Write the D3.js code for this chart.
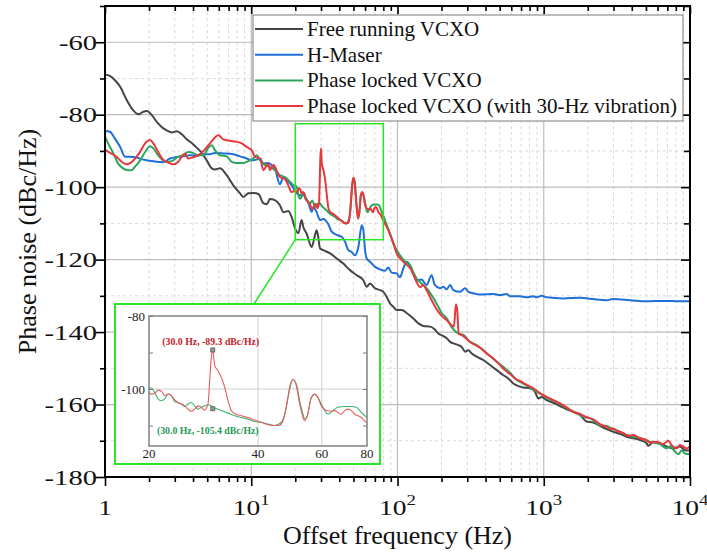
<!DOCTYPE html>
<html>
<head>
<meta charset="utf-8">
<script src="https://cdn.jsdelivr.net/npm/d3@7"></script>
<style>
  html, body { margin: 0; padding: 0; background: #fff; }
  svg text { font-family: "Liberation Serif", "DejaVu Serif", serif; }
</style>
</head>
<body>
<svg id="chart" width="707" height="554"></svg>
<script>
// ---------------- DATA (frequency in Hz, phase noise in dBc/Hz) ----------------
const freeRunning = [[1,-68.9],[1.08,-69.3],[1.17,-70.5],[1.27,-72.3],[1.41,-76.0],[1.56,-78.8],[1.69,-79.9],[1.83,-79.2],[1.93,-79.0],[2.09,-80.1],[2.26,-82.0],[2.44,-83.4],[2.64,-84.3],[2.86,-84.9],[3.09,-84.6],[3.35,-85.4],[3.62,-86.8],[3.92,-87.8],[4.24,-89.1],[4.58,-90.5],[4.96,-92.6],[5.37,-94.8],[5.65,-95.1],[6.11,-94.8],[6.79,-96.7],[7.54,-99.5],[8.38,-101.7],[8.82,-102.7],[9.55,-101.7],[10.3,-101.6],[11.2,-101.9],[12.1,-104.4],[12.8,-104.7],[13.4,-103.3],[14.5,-103.6],[15.7,-105.0],[16.6,-106.9],[17.9,-106.6],[18.9,-108.3],[19.9,-111.3],[21.0,-112.7],[22.1,-109.1],[22.7,-111.0],[23.9,-112.8],[25.9,-116.5],[27.3,-113.2],[28.0,-111.9],[28.7,-113.7],[29.5,-116.9],[31.1,-117.4],[34.6,-118.3],[38.4,-119.7],[42.6,-121.1],[47.3,-122.9],[52.6,-124.3],[58.4,-125.7],[61.6,-127.5],[64.9,-126.6],[70.2,-127.9],[75.9,-128.4],[80.0,-128.9],[84.4,-130.3],[88.9,-132.1],[93.6,-133.0],[98.7,-133.9],[107,-133.9],[116,-134.8],[128,-136.2],[139,-137.6],[150,-138.3],[167,-138.5],[180,-139.3],[190,-140.4],[206,-141.1],[217,-141.7],[229,-142.7],[241,-143.1],[261,-143.6],[275,-144.1],[290,-145.4],[305,-145.0],[322,-145.9],[348,-146.8],[386,-147.7],[429,-149.1],[477,-150.5],[529,-151.9],[572,-152.8],[619,-154.2],[670,-154.9],[725,-155.3],[806,-155.5],[872,-156.5],[918,-158.3],[969,-157.9],[1048,-158.8],[1163,-159.5],[1292,-160.4],[1436,-161.3],[1593,-162.0],[1770,-162.9],[1967,-164.7],[2182,-165.0],[2424,-165.9],[2694,-166.8],[2989,-167.5],[3321,-168.1],[3690,-168.9],[4094,-169.3],[4549,-169.8],[5055,-170.7],[5184,-171.4],[5608,-170.3],[6232,-170.7],[6925,-171.6],[7684,-172.1],[8538,-171.6],[9237,-172.6],[10000,-172.7]];

const hMaser = [[1,-84.5],[1.08,-84.7],[1.17,-86.6],[1.27,-88.9],[1.37,-91.6],[1.48,-91.6],[1.65,-91.8],[1.83,-92.4],[2.03,-92.7],[2.26,-93.0],[2.50,-93.1],[2.78,-92.1],[3.09,-91.7],[3.43,-91.5],[3.81,-91.2],[4.24,-91.3],[4.70,-91.0],[5.22,-90.9],[5.65,-90.6],[6.44,-90.7],[7.54,-90.9],[8.38,-91.5],[9.31,-92.1],[10.1,-92.6],[10.9,-92.4],[11.5,-92.1],[12.1,-93.5],[13.1,-93.3],[13.8,-93.9],[14.5,-94.8],[15.7,-99.2],[16.6,-97.2],[17.5,-98.1],[18.9,-99.5],[20.5,-101.7],[21.5,-102.2],[22.7,-102.2],[24.6,-104.4],[25.9,-106.8],[26.6,-105.5],[28.0,-106.9],[29.5,-109.1],[31.1,-108.8],[33.6,-110.2],[35.5,-112.3],[38.4,-113.2],[41.5,-113.7],[43.8,-115.1],[46.1,-117.4],[48.6,-117.9],[51.2,-118.8],[54.0,-116.5],[56.9,-110.5],[58.4,-111.9],[60.0,-117.4],[61.6,-119.7],[64.9,-120.6],[70.2,-122.0],[75.9,-122.7],[82.1,-123.1],[86.5,-122.2],[91.3,-123.6],[98.7,-123.8],[104,-124.9],[110,-122.2],[116,-120.6],[122,-121.8],[128,-123.8],[135,-125.7],[146,-125.5],[158,-127.0],[171,-124.3],[180,-127.0],[195,-127.9],[206,-127.5],[217,-128.2],[229,-127.0],[241,-128.4],[268,-128.9],[290,-127.9],[305,-128.9],[330,-129.3],[366,-129.6],[452,-129.5],[502,-129.8],[558,-129.5],[588,-130.1],[688,-130.1],[765,-130.4],[849,-130.1],[895,-130.4],[969,-130.0],[1048,-130.4],[1361,-130.7],[1770,-130.5],[2182,-130.9],[2694,-131.2],[2989,-130.9],[3886,-131.2],[5055,-131.5],[6564,-131.4],[8538,-131.5],[10000,-131.5]];

const phaseLocked = [[1,-86.1],[1.05,-87.9],[1.14,-90.7],[1.23,-93.5],[1.33,-94.8],[1.44,-95.3],[1.52,-95.3],[1.60,-94.4],[1.74,-92.6],[1.88,-90.3],[2.03,-88.7],[2.14,-89.3],[2.31,-91.2],[2.50,-92.6],[2.71,-93.0],[2.93,-92.6],[3.17,-91.6],[3.43,-91.2],[3.71,-90.3],[4.02,-90.6],[4.34,-91.2],[4.70,-91.2],[5.09,-89.1],[5.37,-88.4],[5.65,-89.8],[6.11,-91.2],[6.79,-91.5],[7.35,-93.0],[7.95,-93.3],[8.82,-93.3],[9.55,-92.8],[10.3,-92.1],[10.9,-91.2],[11.5,-92.6],[12.4,-93.9],[13.4,-94.4],[14.5,-95.3],[15.7,-96.7],[17.0,-97.2],[18.4,-98.5],
  [20.0,-99.7],[20.3,-99.7],[20.73,-100.9],[21.18,-102.7],[21.63,-103.2],[22.10,-102.7],[22.57,-101.4],[23.05,-101.8],[23.55,-103.4],[24.05,-103.7],[24.57,-104.1],[25.10,-104.8],[25.63,-104.1],[26.18,-103.7],[26.74,-104.6],[27.32,-105.5],[27.90,-105.0],[28.50,-104.6],[29.11,-104.3],[29.73,-104.6],[30.0,-104.9],[30.37,-105.2],[31.69,-105.9],[33.05,-106.6],[34.48,-107.3],[35.98,-107.8],[37.53,-108.2],[39.15,-108.9],[40.85,-109.1],[42.63,-109.6],[44.47,-110.0],[46.40,-109.1],[47.39,-106.9],[48.41,-102.3],[49.97,-97.4],[51.04,-98.6],[52.13,-103.2],[53.25,-106.9],[53.82,-108.2],[54.74,-107.3],[56.14,-102.3],[57.35,-101.4],[58.58,-102.3],[59.83,-104.1],[61.12,-105.9],[62.43,-106.9],[64.44,-105.9],[66.53,-105.0],[69.41,-104.8],[72.42,-104.8],[74.76,-105.0],[77.17,-106.4],[78.82,-107.3],[80.5,-108.2],
  [82.1,-109.1],[88.9,-112.8],[96.1,-116.5],[104,-118.8],[113,-120.6],[122,-121.5],[128,-123.4],[135,-125.2],[146,-126.6],[158,-127.9],[171,-129.8],[185,-132.1],[201,-134.8],[217,-136.2],[235,-138.7],[261,-140.4],[282,-140.8],[313,-142.7],[348,-143.6],[386,-145.0],[429,-146.6],[477,-148.2],[529,-149.6],[588,-151.2],[653,-153.2],[725,-154.2],[806,-155.3],[895,-156.5],[993,-157.4],[1103,-158.6],[1226,-159.2],[1361,-160.4],[1512,-161.5],[1680,-162.4],[1864,-163.4],[2071,-163.8],[2241,-164.7],[2424,-165.7],[2694,-165.9],[2989,-166.8],[3321,-167.5],[3690,-168.4],[4094,-168.9],[4549,-169.2],[5055,-170.0],[5608,-170.5],[6232,-170.9],[6564,-171.6],[6925,-172.1],[7294,-171.5],[7684,-172.4],[8315,-173.7],[8772,-172.7],[9237,-173.5],[10000,-173.7]];

const lockedVibration = [[1,-89.6],[1.08,-90.5],[1.20,-91.6],[1.30,-93.0],[1.41,-93.7],[1.52,-93.1],[1.65,-91.5],[1.74,-90.2],[1.88,-87.9],[2.03,-87.0],[2.14,-87.9],[2.31,-90.3],[2.50,-92.4],[2.71,-93.2],[2.93,-93.7],[3.17,-93.0],[3.35,-91.6],[3.52,-90.7],[3.71,-92.1],[4.02,-91.7],[4.34,-91.2],[4.58,-90.5],[4.96,-89.0],[5.37,-87.3],[5.65,-86.3],[5.95,-85.7],[6.44,-86.8],[7.16,-87.2],[7.95,-87.5],[8.60,-87.9],[9.31,-88.9],[10.1,-89.8],[10.6,-91.6],[11.5,-92.1],[12.1,-95.3],[12.8,-93.9],[13.1,-93.5],[13.4,-95.3],[14.2,-93.9],[14.9,-95.3],[15.7,-97.2],[17.0,-97.8],[17.9,-99.5],[18.9,-101.4],
  [20.0,-100.9],[20.3,-101.4],[20.73,-101.2],[21.18,-100.3],[21.63,-100.6],[22.10,-101.8],[22.57,-101.4],[23.05,-101.8],[23.55,-103.0],[24.05,-103.7],[24.57,-104.1],[25.10,-104.6],[25.63,-105.5],[26.18,-106.1],[26.74,-105.5],[27.32,-104.6],[27.90,-105.0],[28.50,-105.8],[28.80,-105.2],[29.11,-104.1],[29.42,-97.7],[29.73,-91.3],[30.0,-89.3],[30.18,-91.3],[30.37,-93.6],[31.02,-95.0],[31.69,-96.8],[32.36,-99.5],[33.05,-103.2],[33.76,-105.9],[34.48,-106.7],[35.98,-107.3],[37.53,-107.8],[39.15,-108.5],[40.85,-109.1],[42.63,-109.8],[44.47,-110.0],[45.91,-109.9],[46.89,-108.7],[47.90,-105.0],[48.92,-99.5],[49.97,-97.4],[51.04,-99.1],[52.13,-104.1],[53.25,-107.8],[53.82,-108.7],[54.74,-107.3],[56.14,-102.3],[57.35,-101.4],[58.58,-102.3],[59.83,-104.6],[61.77,-105.9],[63.76,-106.1],[65.13,-105.9],[66.53,-106.4],[67.95,-106.9],[69.41,-105.9],[70.90,-105.5],[72.42,-105.9],[73.97,-106.9],[75.55,-107.3],[77.17,-107.8],[78.82,-108.7],[80.5,-109.4],
  [84.4,-111.0],[88.9,-113.0],[93.6,-115.5],[98.7,-118.3],[104,-119.6],[113,-121.1],[122,-122.4],[128,-124.0],[135,-126.2],[143,-127.6],[150,-127.0],[158,-128.4],[171,-131.2],[185,-133.7],[201,-135.6],[217,-136.7],[235,-138.2],[243,-138.5],[251,-132.3],[256,-133.9],[262,-140.4],[282,-141.1],[305,-142.3],[330,-143.3],[366,-144.3],[407,-145.9],[452,-147.3],[502,-149.1],[543,-150.5],[588,-151.6],[636,-152.8],[688,-153.5],[765,-154.6],[849,-155.5],[943,-156.9],[1048,-157.9],[1163,-158.8],[1292,-159.7],[1436,-160.8],[1593,-162.0],[1770,-162.6],[1967,-163.5],[2182,-164.1],[2424,-165.4],[2553,-165.9],[2694,-166.1],[2838,-166.8],[2989,-166.6],[3153,-167.2],[3499,-167.9],[3783,-168.7],[4094,-168.4],[4549,-169.3],[5055,-169.8],[5325,-170.5],[5918,-170.3],[6564,-170.9],[7101,-170.0],[7493,-171.2],[8106,-172.1],[8538,-171.2],[8995,-171.6],[9489,-172.1],[10000,-171.6]];

const seriesNames = ["Free running VCXO", "H-Maser", "Phase locked VCXO", "Phase locked VCXO (with 30-Hz vibration)"];
const seriesColors = ["#454545", "#1f6fd8", "#2ea55c", "#e8383d"];

const xMajorTicks = [1, 10, 100, 1000, 10000];
const xTickExponents = [null, "1", "2", "3", "4"];
const yMajorTicks = [-180, -160, -140, -120, -100, -80, -60];
const yMinorTicks = [-170, -150, -130, -110, -90, -70, -50];

// inset
const insetXTicks = [20, 40, 60, 80];
const insetYTicks = [-100, -80];
const insetYMinor = [-110, -90];
const annotations = [
  { f: 30.0, v: -89.3, label: "(30.0 Hz, -89.3 dBc/Hz)", color: "#c8202a", dy: -5, dx: -2 },
  { f: 30.0, v: -105.4, label: "(30.0 Hz, -105.4 dBc/Hz)", color: "#27995a", dy: 25, dx: -5 }
];

// ---------------- LAYOUT ----------------
const svg = d3.select("#chart");
const L = 105, R = 690, T = 6, B = 477;
const x = d3.scaleLog().domain([1, 1e4]).range([L, R]);
const y = d3.scaleLinear().domain([-180, -50]).range([B, T]);

const xMinorTicks = [];
[1, 10, 100, 1000].forEach(d => { for (let k = 2; k <= 9; k++) xMinorTicks.push(k * d); });

// grid
const grid = svg.append("g");
grid.selectAll(".gxm").data(xMinorTicks).join("line")
  .attr("x1", d => x(d)).attr("x2", d => x(d)).attr("y1", T).attr("y2", B)
  .attr("stroke", "#d9d9d9").attr("stroke-width", 1).attr("stroke-dasharray", "3,3");
grid.selectAll(".gym").data(yMinorTicks).join("line")
  .attr("x1", L).attr("x2", R).attr("y1", d => y(d)).attr("y2", d => y(d))
  .attr("stroke", "#d9d9d9").attr("stroke-width", 1).attr("stroke-dasharray", "3,3");
grid.selectAll(".gxM").data(xMajorTicks.slice(1, -1)).join("line")
  .attr("x1", d => x(d)).attr("x2", d => x(d)).attr("y1", T).attr("y2", B)
  .attr("stroke", "#bdbdbd").attr("stroke-width", 1.2);
grid.selectAll(".gyM").data(yMajorTicks.slice(1)).join("line")
  .attr("x1", L).attr("x2", R).attr("y1", d => y(d)).attr("y2", d => y(d))
  .attr("stroke", "#bdbdbd").attr("stroke-width", 1.2);

// clip
svg.append("clipPath").attr("id", "clipMain").append("rect")
  .attr("x", L).attr("y", T).attr("width", R - L).attr("height", B - T);

const line = d3.line().x(d => x(d[0])).y(d => y(d[1])).curve(d3.curveMonotoneX);
const allSeries = [freeRunning, hMaser, phaseLocked, lockedVibration];
const curves = svg.append("g").attr("clip-path", "url(#clipMain)");
allSeries.forEach((s, i) => {
  curves.append("path").datum(s).attr("d", line)
    .attr("fill", "none").attr("stroke", seriesColors[i]).attr("stroke-width", 2)
    .attr("stroke-linejoin", "round");
});

// axes
function styleAxis(g) { g.select(".domain").remove(); g.selectAll(".tick line").attr("stroke", "#000").attr("stroke-width", 1.6); }
svg.append("g").attr("transform", `translate(0,${B})`)
  .call(d3.axisBottom(x).tickValues(xMajorTicks).tickSize(9).tickFormat(() => "")).call(styleAxis);
svg.append("g").attr("transform", `translate(0,${B})`)
  .call(d3.axisBottom(x).tickValues(xMinorTicks).tickSize(5).tickFormat(() => "")).call(styleAxis);
svg.append("g").attr("transform", `translate(0,${T})`)
  .call(d3.axisBottom(x).tickValues(xMajorTicks).tickSize(8).tickFormat(() => "")).call(styleAxis);
svg.append("g").attr("transform", `translate(0,${T})`)
  .call(d3.axisBottom(x).tickValues(xMinorTicks).tickSize(5).tickFormat(() => "")).call(styleAxis);
svg.append("g").attr("transform", `translate(${L},0)`)
  .call(d3.axisLeft(y).tickValues(yMajorTicks).tickSize(9).tickFormat(() => "")).call(styleAxis);
svg.append("g").attr("transform", `translate(${L},0)`)
  .call(d3.axisLeft(y).tickValues(yMinorTicks).tickSize(5).tickFormat(() => "")).call(styleAxis);
svg.append("g").attr("transform", `translate(${R},0)`)
  .call(d3.axisLeft(y).tickValues(yMajorTicks).tickSize(9).tickFormat(() => "")).call(styleAxis);
svg.append("g").attr("transform", `translate(${R},0)`)
  .call(d3.axisLeft(y).tickValues(yMinorTicks).tickSize(6).tickFormat(() => "")).call(styleAxis);

// frame
svg.append("rect").attr("x", L).attr("y", T).attr("width", R - L).attr("height", B - T)
  .attr("fill", "none").attr("stroke", "#000").attr("stroke-width", 2);

// y tick labels (wide serif look)
svg.append("g").selectAll("g").data(yMajorTicks).join("g")
  .attr("transform", d => `translate(${L - 8},${y(d) + 7.5}) scale(1.3,1)`)
  .append("text").attr("text-anchor", "end").attr("font-size", 22).attr("fill", "#111")
  .text(d => String(d));

// x tick labels
const xl = svg.append("g").selectAll("g").data(xMajorTicks).join("g")
  .attr("transform", d => `translate(${x(d)},515) scale(1.25,1)`)
  .append("text").attr("text-anchor", "middle").attr("font-size", 22).attr("fill", "#111");
xl.each(function (d, i) {
  const t = d3.select(this);
  if (xTickExponents[i] === null) { t.text("1"); }
  else {
    t.append("tspan").text("10");
    t.append("tspan").attr("dy", -10).attr("font-size", 15).text(xTickExponents[i]);
  }
});

// axis titles
svg.append("text").attr("x", (L + R) / 2).attr("y", 544).attr("text-anchor", "middle")
  .attr("font-size", 26).attr("fill", "#111").text("Offset frequency (Hz)");
svg.append("text").attr("transform", `translate(36,${(T + B) / 2}) rotate(-90)`)
  .attr("text-anchor", "middle").attr("font-size", 26).attr("fill", "#111").text("Phase noise (dBc/Hz)");

// legend
const lg = svg.append("g");
lg.append("rect").attr("x", 253).attr("y", 15).attr("width", 430).attr("height", 106)
  .attr("fill", "#fff").attr("stroke", "#7a7a7a").attr("stroke-width", 1);
seriesNames.forEach((n, i) => {
  const yy = 29 + i * 25.7;
  lg.append("line").attr("x1", 255).attr("x2", 303).attr("y1", yy).attr("y2", yy)
    .attr("stroke", seriesColors[i]).attr("stroke-width", 2);
  lg.append("text").attr("x", 307).attr("y", yy + 7).attr("font-size", 21).attr("fill", "#111").text(n);
});

// zoom rectangle in main plot + connector
const zoomF = [20, 80], zoomV = [-114.5, -82.5];
const neon = "#26e626";
svg.append("rect").attr("x", x(zoomF[0])).attr("y", y(zoomV[1]))
  .attr("width", x(zoomF[1]) - x(zoomF[0])).attr("height", y(zoomV[0]) - y(zoomV[1]))
  .attr("fill", "none").attr("stroke", neon).attr("stroke-width", 1.5);

// inset
const IO = { x: 115, y: 304, w: 265, h: 160 };
svg.append("line").attr("x1", x(zoomF[0])).attr("y1", y(zoomV[0])).attr("x2", 254).attr("y2", IO.y)
  .attr("stroke", neon).attr("stroke-width", 1.5);
svg.append("rect").attr("x", IO.x).attr("y", IO.y).attr("width", IO.w).attr("height", IO.h)
  .attr("fill", "#fff").attr("stroke", neon).attr("stroke-width", 2);

const iL = 149, iR = 367, iT = 316, iB = 446;
const xi = d3.scaleLog().domain([20, 80]).range([iL, iR]);
const yi = d3.scaleLinear().domain([-115.6, -80]).range([iB, iT]);
const ig = svg.append("g");
ig.selectAll(".igx").data([40, 60]).join("line")
  .attr("x1", d => xi(d)).attr("x2", d => xi(d)).attr("y1", iT).attr("y2", iB)
  .attr("stroke", "#cfcfcf").attr("stroke-width", 1);
ig.append("line").attr("x1", iL).attr("x2", iR).attr("y1", yi(-100)).attr("y2", yi(-100))
  .attr("stroke", "#cfcfcf").attr("stroke-width", 1);

svg.append("clipPath").attr("id", "clipInset").append("rect")
  .attr("x", iL).attr("y", iT).attr("width", iR - iL).attr("height", iB - iT);
const iline = d3.line().x(d => xi(d[0])).y(d => yi(d[1])).curve(d3.curveMonotoneX);
const ic = ig.append("g").attr("clip-path", "url(#clipInset)");
const inRange = s => s.filter(d => d[0] >= 19 && d[0] <= 82);
ic.append("path").datum(inRange(phaseLocked)).attr("d", iline)
  .attr("fill", "none").attr("stroke", "#3db36d").attr("stroke-width", 1.1);
ic.append("path").datum(inRange(lockedVibration)).attr("d", iline)
  .attr("fill", "none").attr("stroke", "#ec5a5e").attr("stroke-width", 1.1);

// inset axes
ig.append("g").attr("transform", `translate(${iL},0)`)
  .call(d3.axisRight(yi).tickValues([...insetYTicks, ...insetYMinor]).tickSize(4).tickFormat(() => ""))
  .call(g => { g.select(".domain").remove(); g.selectAll(".tick line").attr("stroke", "#777"); });
ig.append("g").attr("transform", `translate(${iR},0)`)
  .call(d3.axisLeft(yi).tickValues([...insetYTicks, ...insetYMinor]).tickSize(4).tickFormat(() => ""))
  .call(g => { g.select(".domain").remove(); g.selectAll(".tick line").attr("stroke", "#777"); });
ig.append("rect").attr("x", iL).attr("y", iT).attr("width", iR - iL).attr("height", iB - iT)
  .attr("fill", "none").attr("stroke", "#808080").attr("stroke-width", 1.5);
ig.selectAll(".iyl").data(insetYTicks).join("text")
  .attr("x", iL - 4).attr("y", d => yi(d) + 4.5).attr("text-anchor", "end")
  .attr("font-size", 13).attr("fill", "#222").text(d => d);
ig.selectAll(".ixl").data(insetXTicks).join("text")
  .attr("x", d => xi(d)).attr("y", iB + 12).attr("text-anchor", "middle")
  .attr("font-size", 13).attr("fill", "#222").text(d => d);

// annotations
annotations.forEach(a => {
  ig.append("rect").attr("x", xi(a.f) - 2).attr("y", yi(a.v) - 2).attr("width", 4).attr("height", 4)
    .attr("fill", "#999").attr("stroke", "#555").attr("stroke-width", 0.8);
  ig.append("text").attr("x", xi(a.f) + a.dx).attr("y", yi(a.v) + a.dy).attr("text-anchor", "middle")
    .attr("font-size", 9.8).attr("font-weight", "bold").attr("fill", a.color).text(a.label);
});
</script>
</body>
</html>
